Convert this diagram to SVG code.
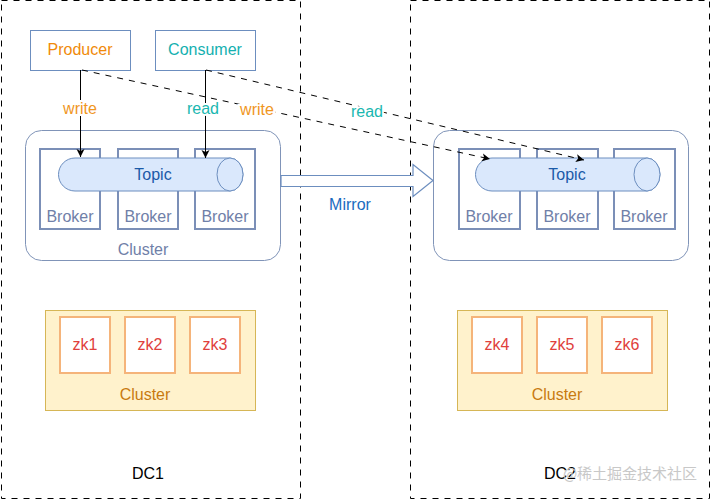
<svg xmlns="http://www.w3.org/2000/svg" width="711" height="501" viewBox="0 0 711 501">
<style>
text{font-family:"Helvetica","Liberation Sans",Arial,sans-serif;font-size:16px;text-anchor:middle}
.dc{fill:none;stroke:#000;stroke-width:1;stroke-dasharray:6 6}
.app{fill:#fff;stroke:#6c8ebf;stroke-width:1}
.cl{fill:#fff;stroke:#8094b8;stroke-width:1}
.br{fill:#fff;stroke:#7b8fb7;stroke-width:2}
.brt{fill:#7080a8}
.tp{fill:#dae8fc;stroke:#6c8ebf;stroke-width:1}
.tpt{fill:#1a5aa8}
.zkc{fill:#fff2cc;stroke:#d6b656;stroke-width:1}
.zk{fill:#fff;stroke:#f5b47a;stroke-width:2}
.zkt{fill:#e0403c}
.zkl{fill:#c87a10}
.w{fill:#f0961e}
.r{fill:#1ab7b0}
.con{fill:none;stroke:#000;stroke-width:1}
.dash{stroke-dasharray:6 6}
.lbl{stroke:#fff;stroke-width:4;paint-order:stroke}
</style>
<defs>
<marker id="ah" markerWidth="10" markerHeight="10" refX="9" refY="5" orient="auto" markerUnits="userSpaceOnUse">
<path d="M1,1 L9,5 L1,9 L3,5 Z" fill="#000"/>
</marker>
</defs>
<g id="dc1"><rect class="dc" x="1.5" y="0.5" width="299" height="498"/><text x="148" y="479" fill="#000">DC1</text></g>
<g id="dc2"><rect class="dc" x="410.5" y="0.5" width="299" height="498"/><text x="560" y="479" fill="#000">DC2</text></g>
<g id="cluster1"><rect class="cl" x="25.5" y="130.5" width="255" height="130" rx="16"/><text class="brt" x="143" y="255">Cluster</text></g>
<g id="cluster2"><rect class="cl" x="433.5" y="130.5" width="255" height="130" rx="16"/></g>
<g id="brokers1">
<rect class="br" x="40" y="149" width="60" height="80"/><text class="brt" x="70" y="222">Broker</text>
<rect class="br" x="118" y="149" width="60" height="80"/><text class="brt" x="148" y="222">Broker</text>
<rect class="br" x="195" y="149" width="60" height="80"/><text class="brt" x="225" y="222">Broker</text>
</g>
<g id="brokers2">
<rect class="br" x="459" y="149" width="61" height="80"/><text class="brt" x="489" y="222">Broker</text>
<rect class="br" x="537" y="149" width="61" height="80"/><text class="brt" x="567" y="222">Broker</text>
<rect class="br" x="614" y="149" width="61" height="80"/><text class="brt" x="644" y="222">Broker</text>
</g>
<g id="topic1">
<path class="tp" d="M75,158 H230 A13,16.5 0 0 1 230,191 H75 A16.5,16.5 0 0 1 75,158 Z"/>
<ellipse class="tp" cx="230" cy="174.5" rx="13" ry="16.5"/>
<text class="tpt" x="153" y="180">Topic</text>
</g>
<g id="topic2">
<path class="tp" d="M492,158 H647 A13,16.5 0 0 1 647,191 H492 A16.5,16.5 0 0 1 492,158 Z"/>
<ellipse class="tp" cx="647" cy="174.5" rx="13" ry="16.5"/>
<text class="tpt" x="567" y="180">Topic</text>
</g>
<g id="producer"><rect class="app" x="30.5" y="30.5" width="100" height="40"/><text x="80" y="55" fill="#f08a0a">Producer</text></g>
<g id="consumer"><rect class="app" x="155.5" y="30.5" width="100" height="40"/><text x="205" y="55" fill="#14b0b0">Consumer</text></g>
<g id="zkcluster1">
<rect class="zkc" x="45.5" y="310.5" width="210" height="100"/>
<rect class="zk" x="60" y="317" width="50" height="56"/><text class="zkt" x="85" y="350">zk1</text>
<rect class="zk" x="125" y="317" width="50" height="56"/><text class="zkt" x="150" y="350">zk2</text>
<rect class="zk" x="190" y="317" width="50" height="56"/><text class="zkt" x="215" y="350">zk3</text>
<text class="zkl" x="145" y="400">Cluster</text>
</g>
<g id="zkcluster2">
<rect class="zkc" x="457.5" y="310.5" width="210" height="100"/>
<rect class="zk" x="472" y="317" width="50" height="56"/><text class="zkt" x="497" y="350">zk4</text>
<rect class="zk" x="537" y="317" width="50" height="56"/><text class="zkt" x="562" y="350">zk5</text>
<rect class="zk" x="602" y="317" width="50" height="56"/><text class="zkt" x="627" y="350">zk6</text>
<text class="zkl" x="557" y="400">Cluster</text>
</g>
<g id="connectors">
<path class="con" d="M80.5,70 V157" marker-end="url(#ah)"/>
<path class="con" d="M205.5,70 V158" marker-end="url(#ah)"/>
<path class="con dash" d="M82,70 L490,159" marker-end="url(#ah)"/>
<path class="con dash" d="M206,70 L584,160" marker-end="url(#ah)"/>
<path d="M281,175.5 H413 V164.5 L433,180.5 L413,196.5 V186.5 H281 Z" fill="#fff" stroke="#6c8ebf" stroke-width="1.2"/>
<text class="w lbl" x="80" y="114">write</text>
<text class="r lbl" x="203" y="114">read</text>
<text class="w lbl" x="257" y="115">write</text>
<text class="r lbl" x="367" y="117">read</text>
<text x="350" y="210" fill="#1a6cc0">Mirror</text>
</g>
<text x="630" y="479" fill="#c8c8c8" style="font-family:'Noto Sans CJK SC',sans-serif;font-size:15px">@稀土掘金技术社区</text>
</svg>
